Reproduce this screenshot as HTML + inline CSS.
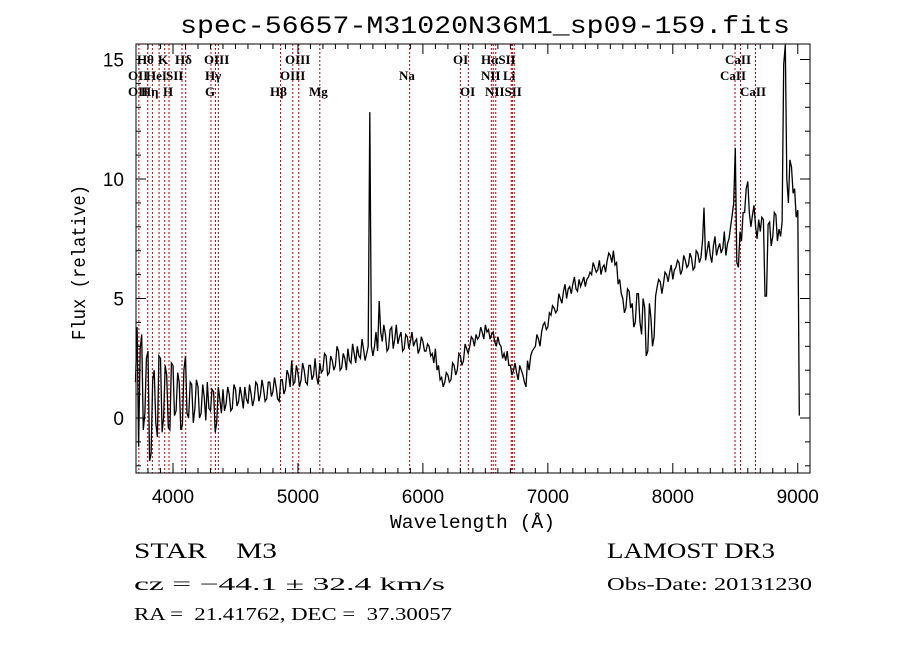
<!DOCTYPE html>
<html><head><meta charset="utf-8"><style>
body{margin:0;background:#fff;}
svg{display:block;}
</style></head><body>
<svg id="chart" width="900" height="649" viewBox="0 0 900 649" xmlns="http://www.w3.org/2000/svg">
<rect width="900" height="649" fill="#fff"/>
<text x="180" y="33" textLength="610" lengthAdjust="spacingAndGlyphs" font-family="Liberation Mono, monospace" font-size="25">spec-56657-M31020N36M1_sp09-159.fits</text>
<g id="lines"></g>
<g id="labels" font-family="Liberation Serif, serif" font-size="13"></g>
<path id="spec" fill="none" stroke="#000" stroke-width="1.3" stroke-linejoin="miter"/>
<rect x="136" y="44" width="674" height="429" fill="none" stroke="#000" stroke-width="1"/>
<g id="ticks" stroke="#000" stroke-width="1"></g>
<g id="ticklabels" font-family="Liberation Sans, sans-serif" font-size="19"></g>
<text x="390" y="528" textLength="165" lengthAdjust="spacingAndGlyphs" font-family="Liberation Mono, monospace" font-size="19">Wavelength (Å)</text>
<text transform="translate(85,340) rotate(-90)" textLength="155" lengthAdjust="spacingAndGlyphs" font-family="Liberation Mono, monospace" font-size="19">Flux (relative)</text>
<text x="134" y="558" textLength="143" lengthAdjust="spacingAndGlyphs" xml:space="preserve" font-family="Liberation Serif, serif" font-size="22">STAR    M3</text>
<text x="134" y="590" textLength="311" lengthAdjust="spacingAndGlyphs" font-family="Liberation Serif, serif" font-size="18">cz = −44.1 ± 32.4 km/s</text>
<text x="134" y="620" textLength="318" lengthAdjust="spacingAndGlyphs" font-family="Liberation Serif, serif" font-size="18" xml:space="preserve">RA =  21.41762, DEC =  37.30057</text>
<text x="607" y="558" textLength="168" lengthAdjust="spacingAndGlyphs" font-family="Liberation Serif, serif" font-size="22">LAMOST DR3</text>
<text x="607" y="590" textLength="205" lengthAdjust="spacingAndGlyphs" font-family="Liberation Serif, serif" font-size="18">Obs-Date: 20131230</text>
</svg>
<script>
const waveStart = 3700;
const waveStep = 12.5;
const flux = [
1.5,3.8,-1.2,2.9,3.5,-0.5,0.2,2.5,2.8,-1.8,-1.5,1.6,2.0,-0.2,-0.8,2.6,2.5,-0.6,0.0,2.2,
1.8,-0.4,-0.5,2.3,2.2,0.1,0.3,1.9,1.5,-0.5,-0.3,2.0,2.6,0.2,0.0,1.5,1.4,-0.2,0.4,1.6,
1.3,0.0,0.2,1.4,0.9,-0.1,1.5,0.4,0.3,1.2,1.1,-0.6,-0.2,1.3,0.8,0.2,1.2,0.3,0.6,1.3,
1.0,0.3,0.4,1.4,1.2,0.5,0.7,1.3,0.9,0.4,1.3,0.8,0.6,1.4,1.0,0.5,0.8,1.5,1.4,0.7,
1.0,1.6,1.2,0.7,0.8,1.5,1.5,0.9,1.1,1.7,1.3,0.8,0.7,1.6,1.6,1.0,1.2,2.0,1.8,1.3,
2.4,1.4,1.5,2.2,1.9,1.3,1.6,2.3,2.0,1.5,1.4,2.2,2.2,1.6,1.8,2.5,1.7,1.4,2.3,1.9,
2.0,2.7,2.6,1.8,1.9,2.6,2.4,2.0,2.2,3.0,2.8,2.0,2.1,2.7,2.5,2.0,2.9,2.4,2.3,3.1,
2.7,2.3,3.0,2.6,2.5,3.3,2.9,2.4,2.7,3.0,12.8,3.0,2.6,3.0,3.6,2.8,4.9,3.6,3.2,3.9,
3.5,2.8,2.9,3.7,3.8,2.9,3.3,3.9,3.1,3.4,3.6,2.8,2.9,3.5,3.4,2.9,3.2,3.6,3.0,3.2,
3.3,2.7,2.9,3.4,3.2,2.8,2.8,3.1,3.0,2.6,2.7,2.3,2.9,2.0,2.2,1.6,1.7,1.3,1.5,1.9,
1.8,1.5,1.6,2.3,2.2,1.8,2.0,2.7,2.6,2.2,2.4,3.1,2.9,2.7,3.0,3.4,3.3,3.0,3.5,3.3,
3.4,3.8,3.6,3.3,3.9,3.6,3.7,3.3,3.5,3.6,3.2,3.0,3.4,3.1,3.0,2.5,2.7,2.4,2.8,2.2,
2.2,1.8,2.0,2.3,1.9,1.6,2.2,2.0,1.8,1.5,1.3,2.4,2.0,2.6,2.8,2.9,3.0,3.5,3.3,3.0,
3.6,3.9,4.0,3.7,3.8,4.4,4.3,4.7,4.6,4.4,4.5,5.2,5.0,4.8,5.3,5.6,5.0,5.4,5.5,5.2,
5.6,5.9,5.4,5.3,5.8,5.5,5.7,5.9,5.5,5.8,5.9,6.1,6.0,6.5,6.3,6.1,6.2,6.6,6.0,6.3,
6.4,6.1,6.6,6.9,6.8,6.5,7.0,6.4,6.5,5.6,5.8,5.2,5.0,4.4,4.6,5.4,5.3,4.6,4.8,3.8,
4.0,5.2,5.2,4.0,3.5,5.0,4.6,2.6,2.8,4.8,4.2,3.0,3.4,5.1,5.5,5.8,5.7,5.2,5.6,6.1,
6.0,5.7,6.1,6.4,5.8,6.2,6.3,6.6,6.5,6.0,6.2,6.8,6.6,6.3,6.4,6.9,6.7,6.2,6.3,7.0,
6.9,6.5,6.7,7.4,8.8,6.6,7.0,7.4,6.8,6.5,7.2,7.6,6.8,7.1,7.3,6.9,7.1,7.8,6.8,7.3,
7.5,8.0,8.5,9.0,11.3,6.5,6.3,7.8,7.4,8.6,8.6,9.6,9.9,8.6,8.0,8.5,8.9,8.0,7.5,8.3,
7.8,8.4,8.3,5.1,5.1,8.1,8.2,7.2,7.6,8.6,8.5,7.4,7.9,7.6,8.2,14.8,15.6,10.0,9.0,10.8,
10.5,9.4,9.6,8.4,8.7,0.1
];
const lineWaves = [3727,3798,3835,3889,3934,3968,4072,4102,4304,4340,4363,4861,4959,5007,5175,5894,6300,6364,6548,6563,6583,6707,6716,6731,8498,8542,8662];
const labelTexts = ["Hθ","K","Hδ","OIII","OIII","OI","HαSII","CaII","OII","HeI","SII","Hγ","OIII","Na","NII","Li","CaII","OII","Hη","H","G","Hβ","Mg","OI","NIISII","CaII"];
const labelX = [137,158,175,204,285,453,481,725,128,146,166,205,280,399,481,503,720,128,141,163,205,270,309,460,485,740];
const labelRow = [0,0,0,0,0,0,0,0,1,1,1,1,1,1,1,1,1,2,2,2,2,2,2,2,2,2];
const xTickMajor = [4000,5000,6000,7000,8000,9000];
const yTickMajor = [0,5,10,15];

const NS="http://www.w3.org/2000/svg";
const X0=136,X1=810,Y0=44,Y1=473;
const wMin=3704,wMax=9098;
function xs(w){return X0+(w-wMin)/(wMax-wMin)*(X1-X0);}
function ys(f){return 418-f*23.9;}
function mk(tag,attrs,parent){const e=document.createElementNS(NS,tag);for(const k in attrs)e.setAttribute(k,attrs[k]);parent.appendChild(e);return e;}

let d="";
flux.forEach((f,i)=>{const w=waveStart+i*waveStep;d+=(i?"L":"M")+xs(w).toFixed(1)+","+ys(f).toFixed(1);});
document.getElementById("spec").setAttribute("d",d);

const lg=document.getElementById("lines");
lineWaves.forEach(w=>{
  const l=mk("line",{x1:xs(w),x2:xs(w),y1:Y0,y2:Y1,stroke:"#c00000","stroke-width":1,"stroke-dasharray":"2,2"},lg);
  
  
});
const lb=document.getElementById("labels");
labelTexts.forEach((t,i)=>{
  const e=mk("text",{x:labelX[i],y:64+labelRow[i]*16,"font-weight":"bold"},lb);
  e.textContent=t;
  
  
});

const tg=document.getElementById("ticks"), tl=document.getElementById("ticklabels");
for(let w=3800;w<=9000;w+=100){
  const major=w%1000===0, len=major?10:5, x=xs(w);
  mk("line",{x1:x,x2:x,y1:Y1,y2:Y1-len},tg);
  mk("line",{x1:x,x2:x,y1:Y0,y2:Y0+len},tg);
}
xTickMajor.forEach(w=>{
  const e=mk("text",{x:xs(w),y:503,"text-anchor":"middle"},tl);
  e.textContent=w;
  
  
});
for(let f=-2;f<=15;f++){
  const major=f%5===0, len=major?10:5, y=ys(f);
  mk("line",{x1:X0,x2:X0+len,y1:y,y2:y},tg);
  mk("line",{x1:X1,x2:X1-len,y1:y,y2:y},tg);
}
yTickMajor.forEach(f=>{
  const e=mk("text",{x:124,y:ys(f)+7,"text-anchor":"end"},tl);
  e.textContent=f;
  
  
});
</script>
</body></html>
